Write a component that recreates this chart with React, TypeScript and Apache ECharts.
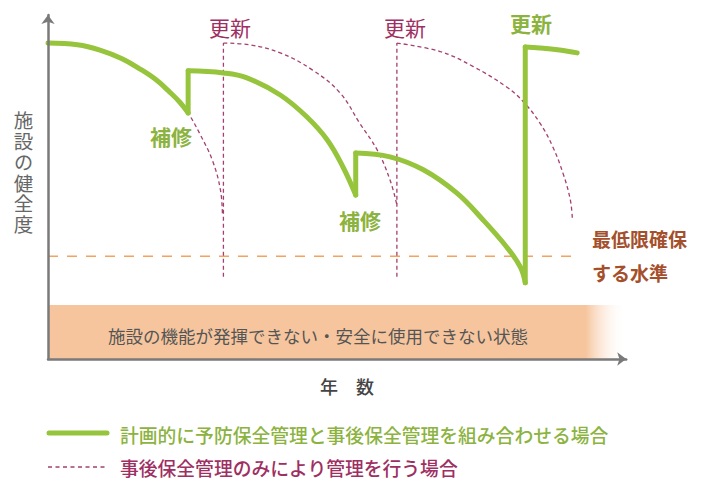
import React, { useEffect, useRef } from "react";
import * as echarts from "echarts";

// ---- data (x: years, y: soundness) ----
const X_MAX = 59;
const Y_MAX = 98;

const GREEN_AGING_1 = [[0, 90.0], [3.0, 89.5], [5.3, 88.0], [7.5, 85.6], [9.4, 82.6], [11.0, 79.6], [12.4, 76.1], [13.5, 73.0], [14.3, 70.1]];
const GREEN_REPAIR_1 = [[14.3, 70.1], [14.3, 82.1]];
const GREEN_AGING_2 = [[14.3, 82.1], [17.9, 81.5], [20.3, 80.1], [23.7, 75.2], [26.4, 69.0], [28.5, 62.4], [30.1, 54.7], [31.4, 46.7]];
const GREEN_REPAIR_2 = [[31.4, 46.7], [31.4, 58.7]];
const GREEN_AGING_3 = [[31.4, 58.7], [34.9, 57.6], [38.3, 53.9], [41.7, 47.3], [44.4, 39.6], [46.8, 31.9], [48.2, 26.2], [48.7, 21.7]];
const GREEN_RENEW = [[48.7, 21.7], [48.7, 88.9]];
const GREEN_AGING_4 = [[48.7, 88.9], [50.2, 88.6], [52.2, 88.0], [54.0, 87.2]];

const REACTIVE_1 = [[0, 90.0], [3.0, 89.5], [5.3, 88.0], [7.5, 85.6], [9.4, 82.6], [11.0, 79.6], [12.4, 76.1], [13.5, 73.0], [14.3, 70.1], [15.5, 64.1], [16.8, 56.4], [17.6, 48.1], [17.8, 41.0]];
const RENEW_LINE_1 = [[17.9, 23.4], [17.9, 90.0]];
const REACTIVE_2 = [[17.9, 90.0], [20.6, 89.5], [23.7, 87.2], [27.0, 82.3], [29.8, 75.8], [31.8, 67.2], [33.6, 59.5], [34.9, 51.0], [35.6, 43.9]];
const RENEW_LINE_2 = [[35.6, 23.4], [35.6, 90.0]];
const REACTIVE_3 = [[35.6, 90.0], [40.0, 87.6], [43.4, 83.3], [46.8, 77.5], [48.5, 73.3], [50.2, 67.2], [51.5, 60.5], [52.6, 52.5], [53.3, 45.3], [53.5, 40.2]];

const MIN_LEVEL = [[0, 29.3], [53.5, 29.3]];
const UNUSABLE_TOP = 15.4;

const LABEL_RENEW = "更新";
const LABEL_REPAIR = "補修";
const LABEL_MIN = ["最低限確保", "する水準"];
const LABEL_BAND = "施設の機能が発揮できない・安全に使用できない状態";
const LABEL_Y = "施設の健全度";
const LABEL_X = "年　数";
const LEGEND_PLANNED = "計画的に予防保全管理と事後保全管理を組み合わせる場合";
const LEGEND_REACTIVE = "事後保全管理のみにより管理を行う場合";

const FONT = "'Noto Sans CJK JP', 'Noto Sans', sans-serif";
const GREEN = "#96c43c";
const GREEN_TEXT = "#8cb340";
const MAROON = "#a3406f";
const MAROON_TEXT = "#9e2f62";
const ORANGE = "#f4a25e";
const BROWN = "#a5502c";
const PEACH = "#f6c59e";
const AXIS = "#7a7a7a";

export default function App() {
  const ref = useRef<HTMLDivElement>(null);
  useEffect(() => {
    document.body.style.margin = "0";
    const chart = echarts.init(ref.current!, undefined, { renderer: "svg" });

    const greenSeries = (name: string, data: number[][], smooth: boolean) => ({
      type: "line",
      name,
      data,
      smooth: smooth ? 0.4 : false,
      symbol: "none",
      z: 4,
      lineStyle: { color: GREEN, width: 5, cap: "round", join: "round" },
      silent: true,
    });
    const dashSeries = (name: string, data: number[][], smooth: boolean) => ({
      type: "line",
      name,
      data,
      smooth: smooth ? 0.4 : false,
      symbol: "none",
      z: 3,
      lineStyle: { color: MAROON, width: 1.3, type: [4, 3] },
      silent: true,
    });

    const text = (x: number, y: number, t: string, size: number, color: string, weight: any, align = "center", extra: any = {}) => ({
      type: "text",
      x,
      y,
      style: { text: t, fontSize: size, fill: color, fontFamily: FONT, fontWeight: weight, align, verticalAlign: "middle", ...extra },
      z: 10,
    });

    chart.setOption({
      animation: false,
      grid: { left: 48, top: 15, width: X_MAX * 9.8, height: Y_MAX * 3.51 },
      xAxis: {
        type: "value",
        min: 0,
        max: X_MAX,
        z: 10,
        axisLine: { show: true, symbol: ["none", "arrow"], symbolSize: [10, 9], lineStyle: { color: AXIS, width: 2.5 } },
        axisTick: { show: false },
        axisLabel: { show: false },
        splitLine: { show: false },
      },
      yAxis: {
        type: "value",
        min: 0,
        max: Y_MAX,
        z: 10,
        axisLine: { show: true, symbol: ["none", "arrow"], symbolSize: [10, 9], lineStyle: { color: AXIS, width: 2.5 } },
        axisTick: { show: false },
        axisLabel: { show: false },
        splitLine: { show: false },
      },
      series: [
        {
          type: "line",
          name: "band",
          data: [],
          symbol: "none",
          z: 1,
          silent: true,
          markArea: {
            silent: true,
            label: { show: false },
            itemStyle: {
              color: new echarts.graphic.LinearGradient(0, 0, 1, 0, [
                { offset: 0, color: PEACH },
                { offset: 0.93, color: PEACH },
                { offset: 1, color: "rgba(255,255,255,0)" },
              ]),
            },
            data: [[{ coord: [0, 0] }, { coord: [X_MAX, UNUSABLE_TOP] }]],
          },
        },
        {
          type: "line",
          name: "min",
          data: MIN_LEVEL,
          symbol: "none",
          z: 2,
          silent: true,
          lineStyle: { color: ORANGE, width: 1.5, type: [10, 9] },
        },
        dashSeries(LEGEND_REACTIVE, REACTIVE_1, true),
        dashSeries("r1", RENEW_LINE_1, false),
        dashSeries("r2", REACTIVE_2, true),
        dashSeries("r3", RENEW_LINE_2, false),
        dashSeries("r4", REACTIVE_3, true),
        greenSeries(LEGEND_PLANNED, GREEN_AGING_1, true),
        greenSeries("g1", GREEN_REPAIR_1, false),
        greenSeries("g2", GREEN_AGING_2, true),
        greenSeries("g3", GREEN_REPAIR_2, false),
        greenSeries("g4", GREEN_AGING_3, true),
        greenSeries("g5", GREEN_RENEW, false),
        greenSeries("g6", GREEN_AGING_4, true),
      ],
      graphic: [
        text(230, 27, LABEL_RENEW, 21, MAROON_TEXT, "normal"),
        text(405, 27, LABEL_RENEW, 21, MAROON_TEXT, "normal"),
        text(531, 23, LABEL_RENEW, 21, GREEN_TEXT, "bold"),
        text(171, 136, LABEL_REPAIR, 21, GREEN_TEXT, "bold"),
        text(360, 220, LABEL_REPAIR, 21, GREEN_TEXT, "bold"),
        text(592, 238, LABEL_MIN[0], 19, BROWN, "bold", "left"),
        text(592, 272, LABEL_MIN[1], 19, BROWN, "bold", "left"),
        text(108, 335, LABEL_BAND, 17.5, "#555555", "normal", "left"),
        text(347, 386, LABEL_X, 18, "#444444", 500),
        {
          type: "line",
          shape: { x1: 49, y1: 433, x2: 107, y2: 433 },
          style: { stroke: GREEN, lineWidth: 5, lineCap: "round" },
        },
        text(120, 434, LEGEND_PLANNED, 18.8, GREEN_TEXT, 500, "left"),
        {
          type: "line",
          shape: { x1: 48, y1: 467, x2: 107, y2: 467 },
          style: { stroke: MAROON, lineWidth: 1.3, lineDash: [4, 3.5] },
        },
        text(120, 467, LEGEND_REACTIVE, 18.8, MAROON_TEXT, 500, "left"),
      ],
    });
    return () => chart.dispose();
  }, []);
  return (
    <div style={{ position: "absolute", left: 0, top: 0, width: 710, height: 480 }}>
      <div ref={ref} style={{ position: "absolute", left: 0, top: 0, width: 710, height: 480 }} />
      <div
        style={{
          position: "absolute",
          left: 13,
          top: 111,
          width: 20,
          writingMode: "vertical-rl",
          textOrientation: "upright",
          fontFamily: FONT,
          fontSize: 19.5,
          lineHeight: "20px",
          letterSpacing: "1.3px",
          color: "#666666",
          whiteSpace: "nowrap",
          pointerEvents: "none",
        }}
      >
        {LABEL_Y}
      </div>
    </div>
  );
}
